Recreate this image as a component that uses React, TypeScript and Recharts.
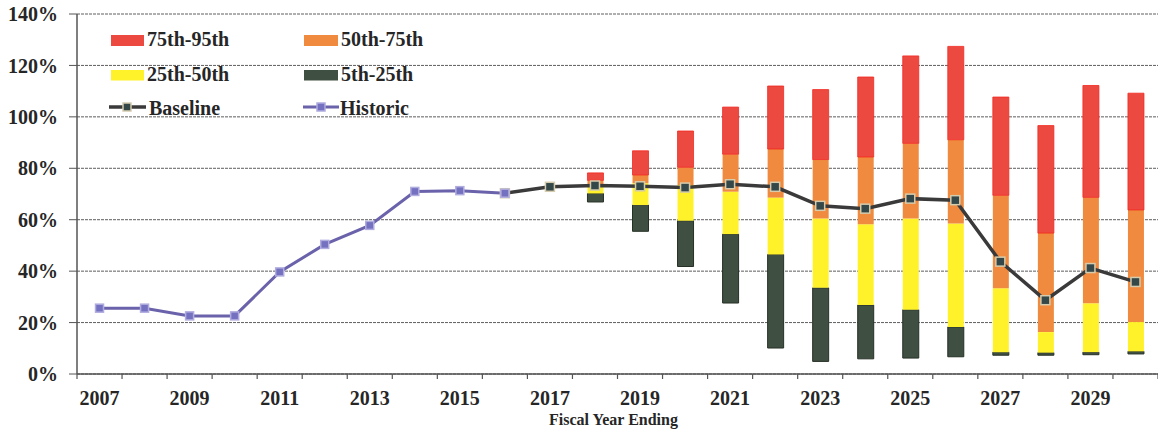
import React from 'react';
import { ComposedChart, Bar, Line, XAxis, YAxis, CartesianGrid } from 'recharts';

// Fiscal years on the category axis
const years = [
  2007, 2008, 2009, 2010, 2011, 2012, 2013, 2014, 2015, 2016, 2017, 2018,
  2019, 2020, 2021, 2022, 2023, 2024, 2025, 2026, 2027, 2028, 2029, 2030,
];

// Actual ratio (%) for the historic years
const historic = [
  25.6, 25.6, 22.6, 22.6, 39.7, 50.4, 57.8, 71.0, 71.3, 70.3, null, null,
  null, null, null, null, null, null, null, null, null, null, null, null,
];

// Baseline projection (%), continuing from the last historic year
const baseline = [
  null, null, null, null, null, null, null, null, null, 70.3, 72.8, 73.3,
  73.0, 72.5, 73.8, 72.8, 65.4, 64.3, 68.2, 67.6, 43.7, 28.7, 41.2, 35.8,
];

// Percentiles of the simulated outcomes (%), 2018 onwards
const p5 = [
  null, null, null, null, null, null, null, null, null, null, null, 66.9,
  55.5, 41.8, 27.6, 10.1, 4.9, 5.9, 6.2, 6.7, 7.3, 7.3, 7.5, 7.8,
];
const p25 = [
  null, null, null, null, null, null, null, null, null, null, null, 70.2,
  65.7, 59.6, 54.4, 46.5, 33.5, 26.8, 25.0, 18.3, 8.5, 8.3, 8.5, 8.8,
];
const p50 = [
  null, null, null, null, null, null, null, null, null, null, null, 73.0,
  74.2, 73.5, 70.9, 68.6, 60.5, 58.2, 60.5, 58.5, 33.3, 16.3, 27.5, 20.2,
];
const p75 = [
  null, null, null, null, null, null, null, null, null, null, null, 75.3,
  77.4, 80.4, 85.5, 87.5, 83.4, 84.4, 89.7, 91.1, 69.5, 54.8, 68.7, 63.8,
];
const p95 = [
  null, null, null, null, null, null, null, null, null, null, null, 78.2,
  86.8, 94.5, 103.8, 112.0, 110.6, 115.5, 123.7, 127.4, 107.7, 96.6, 112.2, 109.2,
];

const yTicks = [0, 20, 40, 60, 80, 100, 120, 140];

const COLORS = {
  red: '#EC4A40',
  redEdge: '#F2271F',
  orange: '#F08A3E',
  yellow: '#FFF22A',
  green: '#3F4F41',
  greenEdge: '#263026',
  baseline: '#3A3A3A',
  baselineMarker: '#34484A',
  baselineMarkerEdge: '#D5CCAE',
  historic: '#6A62AA',
  historicMarker: '#7471C0',
  historicMarkerEdge: '#B0ACDF',
  grid: '#5E5E5E',
  axis: '#555555',
  text: '#262626',
};

const FONT = "'Liberation Serif', 'Times New Roman', serif";

// Stacked table: a transparent base up to the 5th percentile, then one
// segment per percentile band.
const rows = years.map((year, i) => {
  const has = p5[i] != null;
  return {
    year,
    historic: historic[i],
    baseline: baseline[i],
    base: has ? p5[i] : null,
    b5_25: has ? (p25[i] as number) - (p5[i] as number) : null,
    b25_50: has ? (p50[i] as number) - (p25[i] as number) : null,
    b50_75: has ? (p75[i] as number) - (p50[i] as number) : null,
    b75_95: has ? (p95[i] as number) - (p75[i] as number) : null,
  };
});

const squareDot = (size: number, fill: string, stroke: string) => (props: any) => {
  const { cx, cy, index } = props;
  if (cx == null || cy == null || Number.isNaN(cy)) return <g key={`d-${index}`} />;
  return (
    <rect
      key={`d-${index}`}
      x={cx - size / 2}
      y={cy - size / 2}
      width={size}
      height={size}
      fill={fill}
      stroke={stroke}
      strokeWidth={1.5}
    />
  );
};

// Year labels on odd years, tick marks on every category boundary
const YearTick = (props: any) => {
  const { x, y, payload, index } = props;
  const half = payload && payload.offset ? payload.offset : 22.5;
  const year = Number(payload.value);
  return (
    <g>
      {index === 0 && (
        <line x1={x - half} x2={x - half} y1={y} y2={y + 5} stroke={COLORS.axis} strokeWidth={1.2} />
      )}
      <line x1={x + half} x2={x + half} y1={y} y2={y + 5} stroke={COLORS.axis} strokeWidth={1.2} />
      {year % 2 === 1 && (
        <text
          x={x}
          y={y + 31}
          textAnchor="middle"
          fontFamily={FONT}
          fontWeight="bold"
          fontSize={20}
          fill={COLORS.text}
        >
          {year}
        </text>
      )}
    </g>
  );
};

const AxisTitle = (props: any) => {
  const vb = props.viewBox || {};
  const cx = (vb.x ?? 0) + (vb.width ?? 0) / 2 - 4;
  const top = (vb.y ?? 0);
  return (
    <text
      x={cx}
      y={top + 51}
      textAnchor="middle"
      fontFamily={FONT}
      fontWeight="bold"
      fontSize={16}
      fill={COLORS.text}
    >
      Fiscal Year Ending
    </text>
  );
};

const legendText = {
  fontFamily: FONT,
  fontWeight: 'bold' as const,
  fontSize: 20,
  fill: COLORS.text,
};

const LegendBox = () => (
  <svg
    width={460}
    height={130}
    style={{ position: 'absolute', left: 0, top: 0, pointerEvents: 'none' }}
  >
    <rect x={111} y={35} width={33} height={11} fill={COLORS.red} />
    <text x={147} y={46} {...legendText}>75th-95th</text>
    <rect x={304} y={35} width={34} height={11} fill={COLORS.orange} />
    <text x={341} y={46} {...legendText}>50th-75th</text>

    <rect x={111} y={70} width={33} height={10.5} fill={COLORS.yellow} />
    <text x={147} y={81} {...legendText}>25th-50th</text>
    <rect x={304} y={70} width={34} height={10.5} fill={COLORS.green} />
    <text x={341} y={81} {...legendText}>5th-25th</text>

    <line x1={109} x2={146} y1={107} y2={107} stroke={COLORS.baseline} strokeWidth={3.5} />
    <rect x={123} y={103} width={8} height={8} fill={COLORS.baselineMarker} stroke={COLORS.baselineMarkerEdge} strokeWidth={1.5} />
    <text x={149} y={115} {...legendText}>Baseline</text>
    <line x1={303} x2={339} y1={107} y2={107} stroke={COLORS.historic} strokeWidth={3} />
    <rect x={317} y={103} width={8} height={8} fill={COLORS.historicMarker} stroke={COLORS.historicMarkerEdge} strokeWidth={1.5} />
    <text x={340} y={115} {...legendText}>Historic</text>
  </svg>
);

export default function App() {
  return (
    <div style={{ position: 'absolute', left: 0, top: 0, width: 1158, height: 434, background: '#fff' }}>
      <ComposedChart
        width={1158}
        height={434}
        data={rows}
        margin={{ top: 14, right: 0, bottom: 10, left: 0 }}
        barCategoryGap={0}
      >
        <CartesianGrid vertical={false} stroke={COLORS.grid} strokeWidth={1} strokeDasharray="3 1" />
        <XAxis
          dataKey="year"
          type="category"
          interval={0}
          height={50}
          tickLine={false}
          tickSize={0}
          tickMargin={0}
          tick={<YearTick />}
          axisLine={{ stroke: COLORS.axis, strokeWidth: 1.5 }}
          label={<AxisTitle />}
        />
        <YAxis
          type="number"
          domain={[0, 140]}
          ticks={yTicks}
          interval={0}
          width={77}
          tickSize={8}
          tickMargin={11}
          tickFormatter={(v: number) => `${v}%`}
          tickLine={{ stroke: COLORS.axis }}
          axisLine={{ stroke: COLORS.axis, strokeWidth: 1.5 }}
          tick={{ fontFamily: FONT, fontWeight: 'bold', fontSize: 20, fill: COLORS.text }}
        />
        <Bar dataKey="base" stackId="pct" fill="transparent" barSize={16} isAnimationActive={false} />
        <Bar dataKey="b5_25" stackId="pct" fill={COLORS.green} stroke={COLORS.greenEdge} strokeWidth={1} barSize={16} isAnimationActive={false} />
        <Bar dataKey="b25_50" stackId="pct" fill={COLORS.yellow} barSize={16} isAnimationActive={false} />
        <Bar dataKey="b50_75" stackId="pct" fill={COLORS.orange} barSize={16} isAnimationActive={false} />
        <Bar dataKey="b75_95" stackId="pct" fill={COLORS.red} stroke={COLORS.redEdge} strokeWidth={0.8} barSize={16} isAnimationActive={false} />
        <Line
          dataKey="baseline"
          stroke={COLORS.baseline}
          strokeWidth={3.5}
          dot={squareDot(9, COLORS.baselineMarker, COLORS.baselineMarkerEdge)}
          activeDot={false}
          isAnimationActive={false}
        />
        <Line
          dataKey="historic"
          stroke={COLORS.historic}
          strokeWidth={3}
          dot={squareDot(8, COLORS.historicMarker, COLORS.historicMarkerEdge)}
          activeDot={false}
          isAnimationActive={false}
        />
      </ComposedChart>
      <LegendBox />
    </div>
  );
}
